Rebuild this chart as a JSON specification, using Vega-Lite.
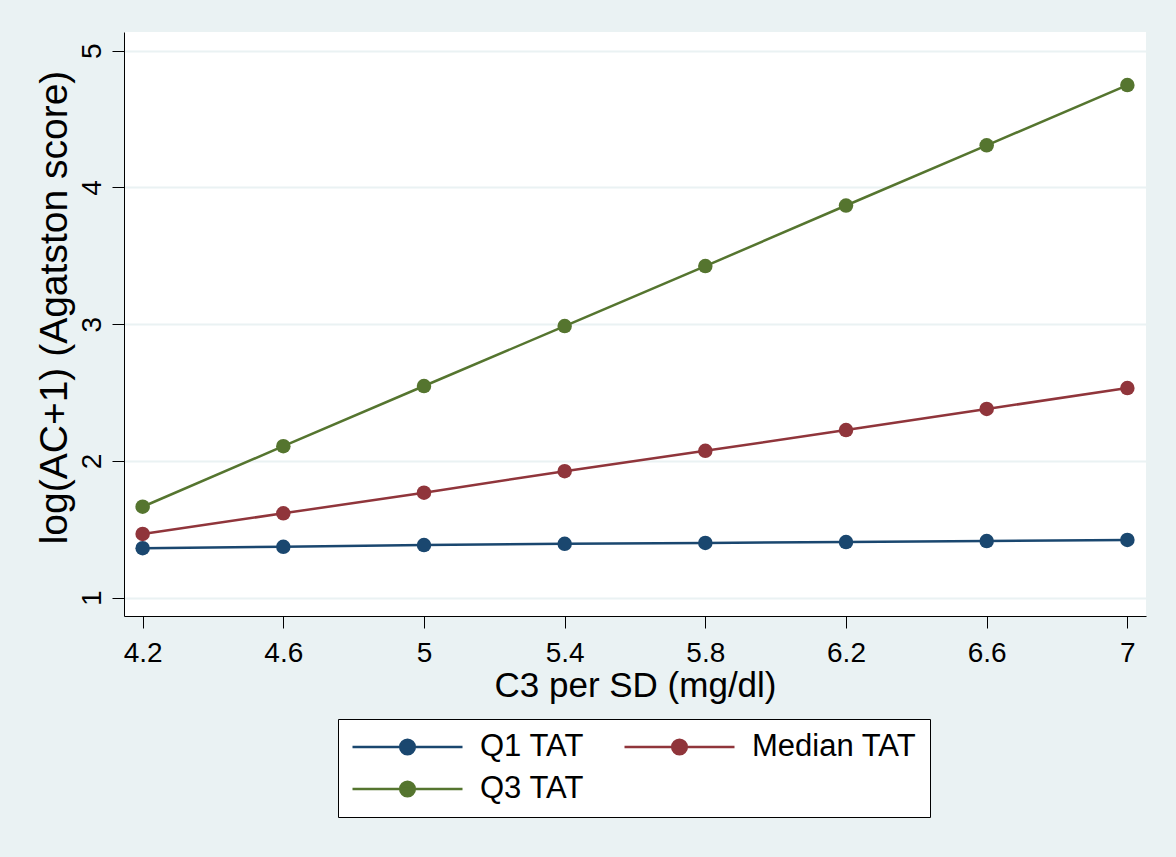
{
  "$schema": "https://vega.github.io/schema/vega-lite/v6.json",
  "width": 1022,
  "height": 584,
  "autosize": {"type": "none"},
  "padding": {"left": 124, "top": 32, "right": 30, "bottom": 241},
  "background": "#EAF2F3",
  "data": {
    "values": [
      {"c3": 4.2, "ac": 1.362, "group": "Q1 TAT"},
      {"c3": 4.6, "ac": 1.372, "group": "Q1 TAT"},
      {"c3": 5.0, "ac": 1.385, "group": "Q1 TAT"},
      {"c3": 5.4, "ac": 1.394, "group": "Q1 TAT"},
      {"c3": 5.8, "ac": 1.400, "group": "Q1 TAT"},
      {"c3": 6.2, "ac": 1.407, "group": "Q1 TAT"},
      {"c3": 6.6, "ac": 1.414, "group": "Q1 TAT"},
      {"c3": 7.0, "ac": 1.422, "group": "Q1 TAT"},
      {"c3": 4.2, "ac": 1.466, "group": "Median TAT"},
      {"c3": 4.6, "ac": 1.617, "group": "Median TAT"},
      {"c3": 5.0, "ac": 1.768, "group": "Median TAT"},
      {"c3": 5.4, "ac": 1.925, "group": "Median TAT"},
      {"c3": 5.8, "ac": 2.074, "group": "Median TAT"},
      {"c3": 6.2, "ac": 2.226, "group": "Median TAT"},
      {"c3": 6.6, "ac": 2.380, "group": "Median TAT"},
      {"c3": 7.0, "ac": 2.533, "group": "Median TAT"},
      {"c3": 4.2, "ac": 1.665, "group": "Q3 TAT"},
      {"c3": 4.6, "ac": 2.108, "group": "Q3 TAT"},
      {"c3": 5.0, "ac": 2.548, "group": "Q3 TAT"},
      {"c3": 5.4, "ac": 2.986, "group": "Q3 TAT"},
      {"c3": 5.8, "ac": 3.425, "group": "Q3 TAT"},
      {"c3": 6.2, "ac": 3.868, "group": "Q3 TAT"},
      {"c3": 6.6, "ac": 4.308, "group": "Q3 TAT"},
      {"c3": 7.0, "ac": 4.749, "group": "Q3 TAT"}
    ]
  },
  "encoding": {
    "x": {
      "field": "c3",
      "type": "quantitative",
      "title": "C3 per SD (mg/dl)",
      "scale": {"domain": [4.147, 7.053], "nice": false, "zero": false},
      "axis": {
        "values": [4.2, 4.6, 5, 5.4, 5.8, 6.2, 6.6, 7],
        "format": "~g",
        "grid": false,
        "labelFontSize": 28,
        "labelPadding": 11,
        "titleFontSize": 35,
        "titlePadding": 1
      }
    },
    "y": {
      "field": "ac",
      "type": "quantitative",
      "title": "log(AC+1) (Agatston score)",
      "scale": {"domain": [0.866, 5.137], "nice": false, "zero": false},
      "axis": {
        "values": [1, 2, 3, 4, 5],
        "grid": true,
        "gridColor": "#EAF2F3",
        "gridWidth": 2,
        "labelAngle": -90,
        "labelAlign": "center",
        "labelBaseline": "bottom",
        "labelFontSize": 28,
        "labelPadding": 6,
        "titleFontSize": 39,
        "titlePadding": 4,
        "titleY": 275
      }
    },
    "color": {
      "field": "group",
      "type": "nominal",
      "scale": {
        "domain": ["Q1 TAT", "Median TAT", "Q3 TAT"],
        "range": ["#1a476f", "#90353b", "#55752f"]
      },
      "legend": {
        "title": null,
        "orient": "none",
        "legendX": 214,
        "legendY": 687,
        "direction": "horizontal",
        "columns": 2,
        "columnPadding": 39,
        "rowPadding": 11,
        "padding": 13,
        "clipHeight": 30,
        "fillColor": "white",
        "strokeColor": "black",
        "labelFontSize": 31,
        "labelLimit": 400,
        "labelFont": "Liberation Sans",
        "labelColor": "black",
        "labelOffset": 16,
        "symbolType": "M-1,0L1,0M-0.133,0A0.133,0.133,0,1,1,0.133,0A0.133,0.133,0,1,1,-0.133,0Z",
        "symbolSize": 12100,
        "symbolStrokeWidth": 2.5,
        "encode": {
          "symbols": {
            "update": {
              "fill": {"scale": "color", "field": "value"},
              "stroke": {"scale": "color", "field": "value"},
              "opacity": {"value": 1}
            }
          }
        }
      }
    }
  },
  "layer": [
    {"mark": {"type": "line", "strokeWidth": 2.5}},
    {"mark": {"type": "point", "filled": true, "size": 210, "opacity": 1}}
  ],
  "config": {
    "font": "Liberation Sans",
    "view": {"fill": "white", "stroke": null},
    "axis": {
      "domainColor": "black",
      "domainWidth": 1,
      "tickColor": "black",
      "tickWidth": 1,
      "tickSize": 12,
      "labelColor": "black",
      "labelFont": "Liberation Sans",
      "titleFont": "Liberation Sans",
      "titleColor": "black",
      "titleFontWeight": "normal"
    }
  }
}
